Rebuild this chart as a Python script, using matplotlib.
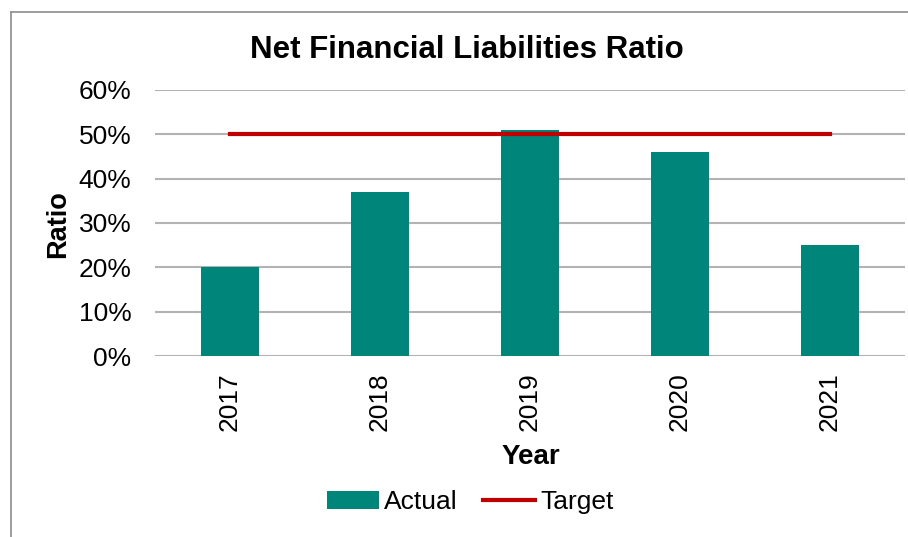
import matplotlib
matplotlib.use("Agg")
import matplotlib.pyplot as plt
from matplotlib.lines import Line2D
from matplotlib.ticker import PercentFormatter, MultipleLocator
import numpy as np

years = ["2017", "2018", "2019", "2020", "2021"]
actual = [0.20, 0.37, 0.51, 0.46, 0.25]
target = [0.50, 0.50, 0.50, 0.50, 0.50]

plt.rcParams['font.family'] = ['Liberation Sans', 'DejaVu Sans']

W, H = 908, 537
fig = plt.figure(figsize=(W / 100, H / 100), dpi=100)
ax = fig.add_axes([155 / W, 1 - 356 / H, (905 - 155) / W, (356 - 90) / H])

x = np.arange(len(years))
bars = ax.bar(x, actual, width=0.39, color="#00857A", label="Actual", zorder=2)
line, = ax.plot(x, target, color="#C00000", lw=3, label="Target", zorder=3)

ax.set_xlim(-0.5, len(years) - 0.5)
ax.set_ylim(0, 0.6)
ax.yaxis.set_major_locator(MultipleLocator(0.1))
ax.yaxis.set_major_formatter(PercentFormatter(1.0, decimals=0))
ax.set_xticks(x)
ax.set_xticklabels(years, rotation=90, fontsize=19)
ax.tick_params(axis='y', labelsize=19, length=0, pad=17)
ax.tick_params(axis='x', length=0, pad=12)
ax.grid(axis='y', color="#B3B3B3", lw=1.5, zorder=0)
for s in ax.spines.values():
    s.set_visible(False)

fig.text(467 / W, 1 - 50 / H, "Net Financial Liabilities Ratio", ha='center', va='center',
         fontsize=22.5, fontweight='bold')
fig.text(58 / W, 1 - 224 / H, "Ratio", ha='center', va='center', rotation=90,
         fontsize=19.5, fontweight='bold')
fig.text(531 / W, 1 - 457 / H, "Year", ha='center', va='center',
         fontsize=20, fontweight='bold')

fig.legend(handles=[bars, line], labels=["Actual", "Target"], loc='center',
           bbox_to_anchor=(470 / W, 1 - 502 / H), ncol=2, frameon=False, fontsize=19,
           handlelength=1.97, handletextpad=0.2, columnspacing=0.95)

fig.add_artist(Line2D([10.5 / W, 10.5 / W], [0, 1 - 11.5 / H], color="#8C8C8C", lw=1.2))
fig.add_artist(Line2D([10.5 / W, 1], [1 - 11.5 / H, 1 - 11.5 / H], color="#8C8C8C", lw=1.2))

fig.savefig("out.png", dpi=100)
